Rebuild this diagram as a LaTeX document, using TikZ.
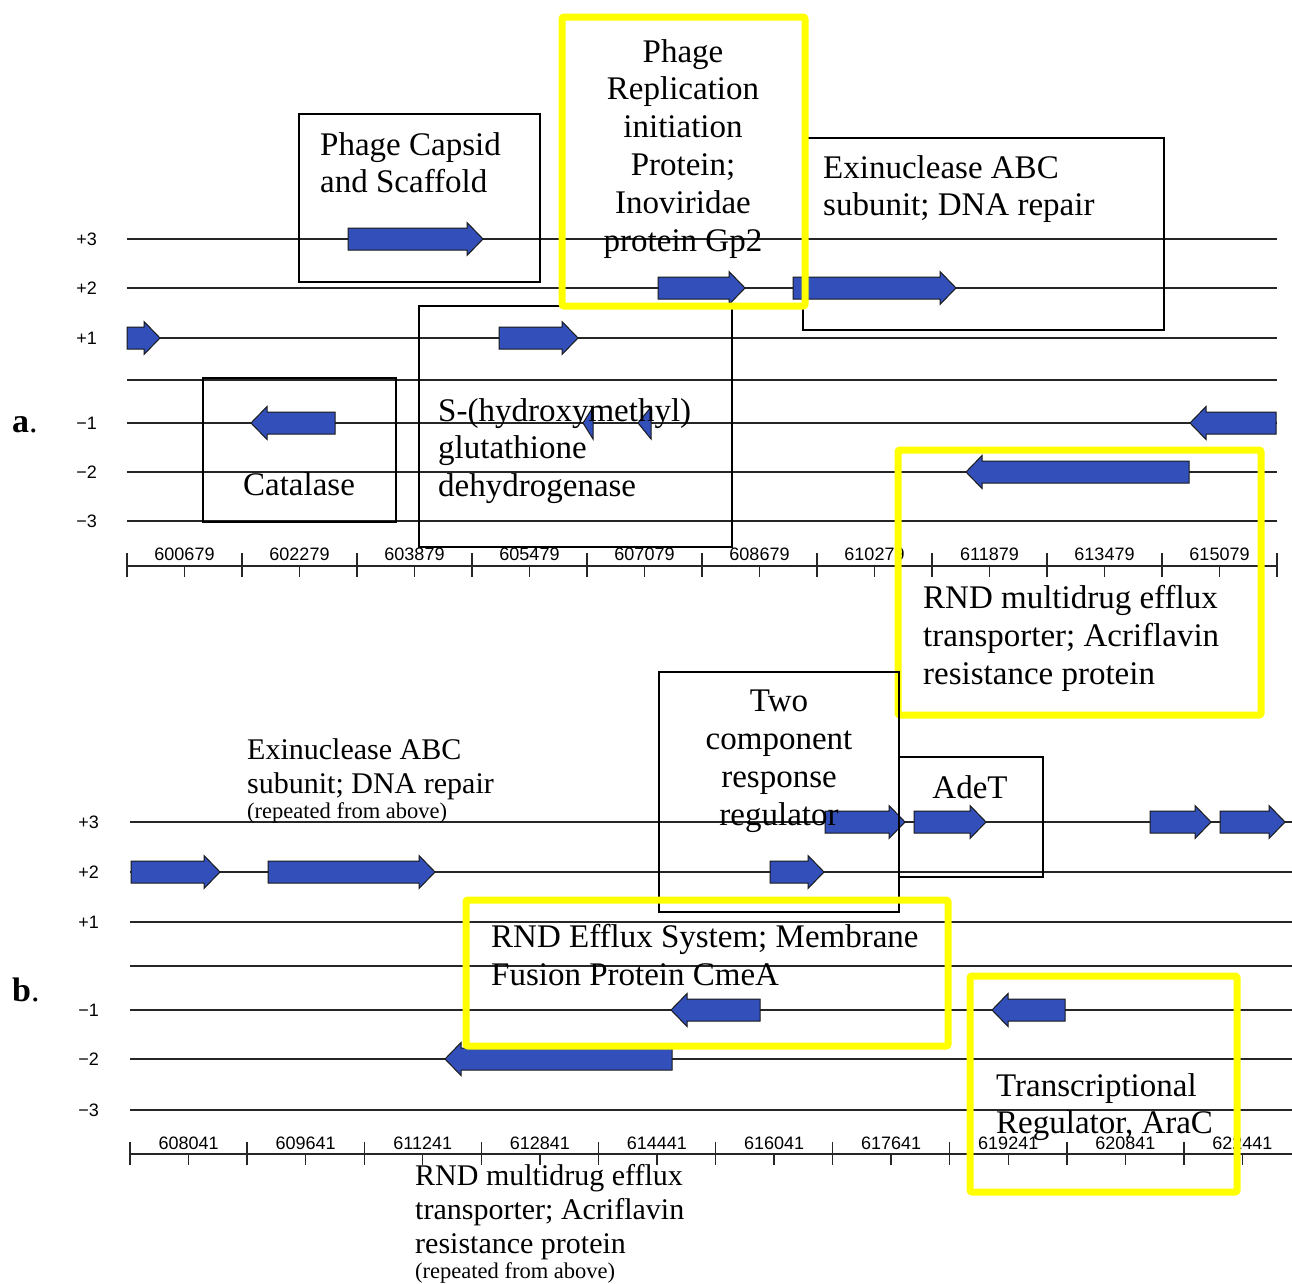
\documentclass[tikz,border=0pt]{standalone}
\usepackage{fontspec}
\setmainfont{Liberation Serif}
\newfontfamily\labsans{Liberation Sans}
\definecolor{genefill}{RGB}{51,80,186}
\definecolor{hiyellow}{RGB}{255,255,0}
\tikzset{
  gene/.style={fill=genefill, draw=black!90, line width=1pt, line join=miter},
  frameline/.style={draw=black!85, line width=1.4pt},
  tick/.style={draw=black!85, line width=1.4pt},
  bbox/.style={draw=black, line width=1.5pt},
  ybox/.style={draw=hiyellow, line width=7pt, rounded corners=2pt},
  lab/.style={font=\fontsize{33}{37.8}\selectfont, inner sep=0pt},
  labs/.style={font=\fontsize{30}{34}\selectfont, inner sep=0pt},
  tinylab/.style={font=\fontsize{22.5}{26}\selectfont, inner sep=0pt},
  axlab/.style={font=\labsans\fontsize{18}{20}\selectfont, inner sep=0pt},
  panlab/.style={font=\fontsize{34}{34}\selectfont, inner sep=0pt, anchor=west}
}
% forward gene: tail x, tip x, y
\newcommand\fgene[3]{\filldraw[gene] (#1,#3-11) -- ({#2-16},#3-11) -- ({#2-16},#3-16.5) -- (#2,#3) -- ({#2-16},#3+16.5) -- ({#2-16},#3+11) -- (#1,#3+11) -- cycle;}
% reverse gene: tip x, tail x, y
\newcommand\rgene[3]{\filldraw[gene] (#2,#3-11) -- ({#1+16},#3-11) -- ({#1+16},#3-16.5) -- (#1,#3) -- ({#1+16},#3+16.5) -- ({#1+16},#3+11) -- (#2,#3+11) -- cycle;}
\begin{document}
\begin{tikzpicture}[x=1pt,y=-1pt]
\useasboundingbox (0,0) rectangle (1292,1283);
\fill[white] (0,0) rectangle (1292,1283);

% ---------------- panel a: frame lines ----------------
\foreach \yy/\nm/\tx in {239/ap3/+3, 288/ap2/+2, 338/ap1/+1, 423/am1/−1, 472/am2/−2, 521/am3/−3}{
  \draw[frameline] (127,\yy) -- (1277,\yy);
  \node[axlab, anchor=east] (\nm) at (97,\yy) {\tx};
}
\draw[frameline] (127,380) -- (1277,380);
% ruler a
\draw[tick] (127,566) -- (1277,566);
\foreach \i/\lb in {0/600679,1/602279,2/603879,3/605479,4/607079,5/608679,6/610279,7/611879,8/613479,9/615079}{
  \draw[tick] ({127+\i*115},553) -- ({127+\i*115},577);
  \draw[tick] ({127+(\i+0.5)*115},566) -- ({127+(\i+0.5)*115},577);
  \node[axlab] (ra\i) at ({127+(\i+0.5)*115},554) {\lb};
}
\draw[tick] (1277,553) -- (1277,577);

% genes a
\fgene{127}{160}{338}
\fgene{348}{483}{239}
\fgene{499}{578}{338}
\fgene{658}{745}{288}
\fgene{793}{956}{288}
\rgene{251}{335}{423}
\filldraw[gene] (583,423) -- (593,407) -- (593,439) -- cycle;
\filldraw[gene] (638,423) -- (651,407) -- (651,439) -- cycle;
\rgene{1190}{1276}{423}
\rgene{966}{1189}{472}

% boxes a
\draw[bbox] (299,114) rectangle (540,282);
\draw[bbox] (803,138) rectangle (1164,330);
\draw[bbox] (419,306) rectangle (732,547);
\draw[bbox] (203,378) rectangle (396,522);
\draw[ybox] (562,17) rectangle (805,306);
\draw[ybox] (898,450) rectangle (1261,715);

% texts a
\node[panlab] (pa) at (12,425) {\textbf{a}.};
\node[lab, anchor=north west, align=left] (capsid) at (320,132) {Phage Capsid\\and Scaffold};
\node[lab, anchor=north, align=center] (repl) at (683,39) {Phage\\Replication\\initiation\\Protein;\\Inoviridae\\protein Gp2};
\node[lab, anchor=north west, align=left] (exia) at (823,155) {Exinuclease ABC\\subunit; DNA repair};
\node[lab, anchor=north west, align=left] (shm) at (438,398) {S-(hydroxymethyl)\\glutathione\\dehydrogenase};
\node[lab] (cat) at (299,484) {Catalase};
\node[lab, anchor=north west, align=left] (rnda) at (923,585) {RND multidrug efflux\\transporter; Acriflavin\\resistance protein};

% ---------------- panel b: frame lines ----------------
\foreach \yy/\nm/\tx in {822/bp3/+3, 872/bp2/+2, 922/bp1/+1, 1010/bm1/−1, 1059/bm2/−2, 1110/bm3/−3}{
  \draw[frameline] (130,\yy) -- (1292,\yy);
  \node[axlab, anchor=east] (\nm) at (99,\yy) {\tx};
}
\draw[frameline] (130,966) -- (1292,966);
% ruler b
\draw[tick] (130,1154) -- (1292,1154);
\foreach \i/\lb in {0/608041,1/609641,2/611241,3/612841,4/614441,5/616041,6/617641,7/619241,8/620841,9/622441}{
  \draw[tick] ({130+\i*117.1},1142) -- ({130+\i*117.1},1165);
  \draw[tick] ({130+(\i+0.5)*117.1},1154) -- ({130+(\i+0.5)*117.1},1165);
  \node[axlab] (rb\i) at ({130+(\i+0.5)*117.1},1143) {\lb};
}

% genes b
\fgene{131}{220}{872}
\fgene{268}{435}{872}
\fgene{770}{824}{872}
\fgene{825}{905}{822}
\fgene{914}{986}{822}
\fgene{1150}{1211}{822}
\fgene{1220}{1285}{822}
\rgene{671}{760}{1010}
\rgene{992}{1065}{1010}
\rgene{445}{672}{1059}

% boxes b
\draw[bbox] (659,672) rectangle (899,912);
\draw[bbox] (899,757) rectangle (1043,877);
\draw[ybox] (466,900) rectangle (948,1046);
\draw[ybox] (970,976) rectangle (1237,1192);

% texts b
\node[panlab] (pb) at (12,990) {\textbf{b}.};
\node[labs, anchor=north west, align=left] (exib) at (247,738) {Exinuclease ABC\\subunit; DNA repair};
\node[tinylab, anchor=west] (rep1) at (247,813) {(repeated from above)};
\node[lab, anchor=north, align=center] (twoc) at (779,690) {Two\\component\\response\\regulator};
\node[lab] (adet) at (970,787) {AdeT};
\node[lab, anchor=north west, align=left] (rndes) at (491,924) {RND Efflux System; Membrane\\Fusion Protein CmeA};
\node[lab, anchor=north west, align=left] (tr) at (996,1073) {Transcriptional\\Regulator, AraC};
\node[labs, anchor=north west, align=left] (rndb) at (415,1164) {RND multidrug efflux\\transporter; Acriflavin\\resistance protein};
\node[tinylab, anchor=west] (rep2) at (415,1273) {(repeated from above)};
\end{tikzpicture}
\end{document}
